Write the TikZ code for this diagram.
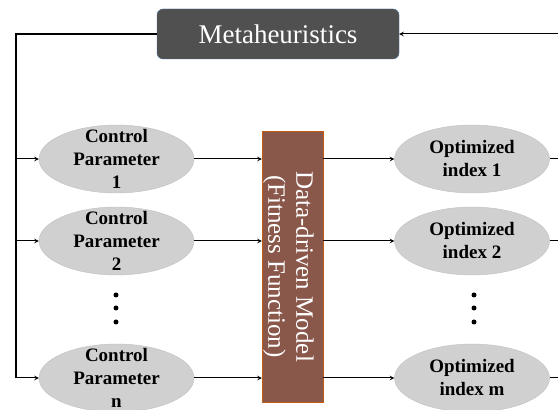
\documentclass[tikz,border=0pt]{standalone}
\usepackage{fontspec}
\setmainfont{Liberation Serif}
\usetikzlibrary{shapes.geometric}
\definecolor{metafill}{HTML}{505050}
\definecolor{metaline}{HTML}{41719C}
\definecolor{modelfill}{HTML}{8A584A}
\definecolor{modelline}{HTML}{C55A11}
\definecolor{ellfill}{HTML}{D0D0D0}
\definecolor{ellline}{HTML}{BFBFBF}
\begin{document}
\begin{tikzpicture}[>=stealth, x=1pt, y=1pt,
  metabox/.style={draw=metaline, fill=metafill, rounded corners=6pt, text=white,
    minimum width=242, minimum height=50, font=\fontsize{27}{30}\selectfont},
  param/.style={ellipse, draw=ellline, fill=ellfill, minimum width=155, minimum height=68, inner sep=0pt},
  lbl/.style={font=\fontsize{19}{23}\selectfont\bfseries, align=center},
  model/.style={draw=modelline, fill=modelfill, minimum width=61, minimum height=271},
  dot/.style={circle, fill=black, inner sep=0pt, minimum size=5},
  link/.style={->, line width=1pt}]
\useasboundingbox (0,0) rectangle (558,410);
\node[metabox] (meta) at (278,376) {Metaheuristics};
\node[param, label={[lbl]center:Control\\Parameter\\1}] (cp1) at (116.5,251) {};
\node[param, label={[lbl]center:Control\\Parameter\\2}] (cp2) at (116.5,169) {};
\node[param, label={[lbl]center:Control\\Parameter\\n}] (cpn) at (116.5,32) {};
\node[dot] (ld1) at (116,115) {};
\node[dot] (ld2) at (116,102) {};
\node[dot] (ld3) at (116,88) {};
\node[model] (dm) at (292.5,143.5) {};
\node[rotate=-90, text=white, align=center, font=\fontsize{25}{28}\selectfont] (dmtext) at ([xshift=-4pt]dm.center) {Data-driven Model\\(Fitness Function)};
\node[param, label={[lbl]center:Optimized\\index 1}] (oi1) at (472,251) {};
\node[param, label={[lbl]center:Optimized\\index 2}] (oi2) at (472,169) {};
\node[param, label={[lbl]center:Optimized\\index m}] (oim) at (472,32) {};
\node[dot] (rd1) at (474,115) {};
\node[dot] (rd2) at (474,102) {};
\node[dot] (rd3) at (474,88) {};
\coordinate (lft) at (16,376);
\coordinate (rgt) at (561,376);
\draw[line width=1.2pt] (meta.west) -- (lft) -- (lft |- cpn);
\draw[link] (lft |- cp1) -- (cp1.west);
\draw[link] (lft |- cp2) -- (cp2.west);
\draw[link] (lft |- cpn) -- (cpn.west);
\draw[link] (cp1.east) -- (cp1 -| dm.west);
\draw[link] (cp2.east) -- (cp2 -| dm.west);
\draw[link] (cpn.east) -- (cpn -| dm.west);
\draw[link] (oi1 -| dm.east) -- (oi1.west);
\draw[link] (oi2 -| dm.east) -- (oi2.west);
\draw[link] (oim -| dm.east) -- (oim.west);
\draw[line width=1pt] (oi1.east) -- (oi1 -| rgt);
\draw[line width=1pt] (oi2.east) -- (oi2 -| rgt);
\draw[line width=1pt] (oim.east) -- (oim -| rgt) -- (rgt);
\draw[link] (rgt) -- (meta.east);
\end{tikzpicture}
\end{document}
